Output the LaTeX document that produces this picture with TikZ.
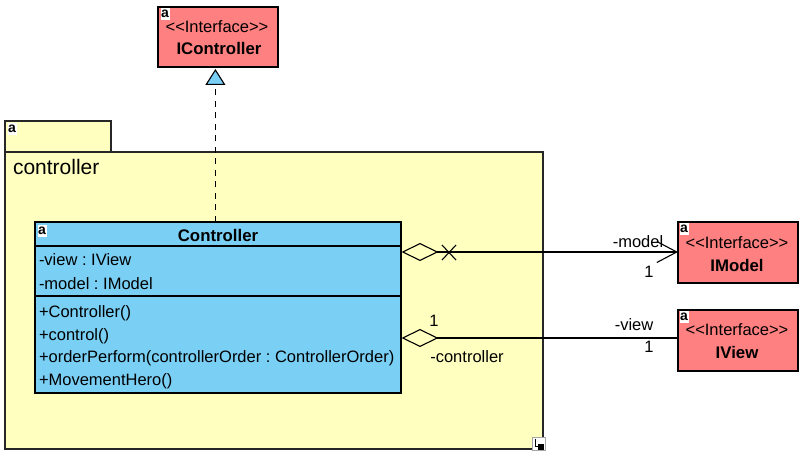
\documentclass[tikz,border=0pt]{standalone}
\usepackage{fontspec}
\setmainfont{Liberation Sans}
\usetikzlibrary{arrows.meta}
\definecolor{ifacered}{HTML}{FF8080}
\definecolor{classblue}{HTML}{7ACFF5}
\definecolor{pkgyellow}{HTML}{FFFFC0}
\newcommand{\stereo}{{<}{<}Interface{>}{>}}
\tikzset{
  x=1bp,y=-1bp,
  every node/.style={inner sep=0pt,outer sep=0pt},
  boxline/.style={draw=black,line width=1.1bp},
  iface/.style={boxline,fill=ifacered,minimum width=120bp,minimum height=60bp},
  pkg/.style={draw=black!85,line width=1.2bp,fill=pkgyellow},
  cls/.style={boxline,fill=classblue,minimum width=366bp,minimum height=171bp},
  txt/.style={anchor=base west,font=\fontsize{16.5bp}{18bp}\selectfont\frenchspacing},
  txtm/.style={anchor=base,font=\fontsize{16.5bp}{18bp}\selectfont},
  txtb/.style={anchor=base,font=\fontsize{16.8bp}{18bp}\selectfont\bfseries},
  badge/.style={fill=white,anchor=center,minimum width=9bp,minimum height=12bp,
    font=\fontsize{14bp}{14bp}\selectfont\bfseries},
  assoc/.style={line width=1.1bp},
}
\begin{document}
\begin{tikzpicture}
\useasboundingbox (0,0) rectangle (804,457);
% package
\node[pkg,anchor=north west,minimum width=106bp,minimum height=31bp] (tab) at (5,121) {};
\node[pkg,anchor=north west,minimum width=538bp,minimum height=297bp] (pkgbody) at (5,152) {};
\node[badge] (tabicon) at (12,129) {a};
\node[anchor=base west,font=\fontsize{21bp}{24bp}\selectfont] (pkgname) at (13,174.5) {controller};
% corner mark
\node[fill=white,draw=black!35,line width=.5bp,minimum width=13bp,minimum height=13bp] (corner) at (539,444) {};
\draw[line width=1bp] (535,439) -- (535,446) -- (538,446);
\fill (538,444) rectangle (544,450);
% interfaces
\node[iface,anchor=north west] (icontroller) at (158,7) {};
\node[iface,anchor=north west,minimum height=61bp] (imodel) at (678,222) {};
\node[iface,anchor=north west,minimum height=61bp] (iview) at (678,310) {};
\node[badge] at (165,14) {a};
\node[badge] at (684,229) {a};
\node[badge] at (684,317) {a};
\node[txtm] at (217,33) {\stereo};
\node[txtb] at (219,54.5) {IController};
\node[txtm] at (737,249) {\stereo};
\node[txtb] at (737,272) {IModel};
\node[txtm] at (737,336) {\stereo};
\node[txtb] at (737,358.5) {IView};
% class
\node[cls,anchor=north west] (controller) at (35,222) {};
\draw[boxline] (35,246) -- (401,246);
\draw[boxline] (35,296) -- (401,296);
\node[badge] at (42,231) {a};
\node[txtb] at (218,241.5) {Controller};
\node[txt] at (39,266) {-view : IView};
\node[txt] at (39,290) {-model : IModel};
\node[txt] at (39,318) {+Controller()};
\node[txt] at (39,341) {+control()};
\node[txt] at (39,363) {+orderPerform(controllerOrder : ControllerOrder)};
\node[txt] at (39,386) {+MovementHero()};
% connectors
\coordinate (realfrom) at (215.4,222);
\coordinate (realto) at (215.4,69);
\draw[line width=1.25bp,dash pattern=on 6bp off 5.5bp,
  -{Triangle[open,fill=classblue,length=16bp,width=20bp,line width=1.1bp]}] (realfrom) -- (realto);
\coordinate (modelfrom) at (401.5,252);
\coordinate (modelto) at (678,252);
\draw[assoc,{Diamond[open,fill=pkgyellow,length=37bp,width=18bp,line width=1.1bp]}-{Straight Barb[length=20bp,width=21bp,line width=1.1bp]}] (modelfrom) -- (modelto);
\draw[assoc] (442,245) -- (456,260) (442,260) -- (456,245);
\coordinate (viewfrom) at (401.5,338);
\coordinate (viewto) at (678,338);
\draw[assoc,{Diamond[open,fill=pkgyellow,length=37bp,width=18bp,line width=1.1bp]}-] (viewfrom) -- (viewto);
% role labels
\node[txtm] at (638,248) {-model};
\node[txtm] at (649,278) {1};
\node[txtm] at (634,331) {-view};
\node[txtm] at (649,353) {1};
\node[txtm] at (434,327) {1};
\node[txtm] at (467,363) {-controller};
\end{tikzpicture}
\end{document}
